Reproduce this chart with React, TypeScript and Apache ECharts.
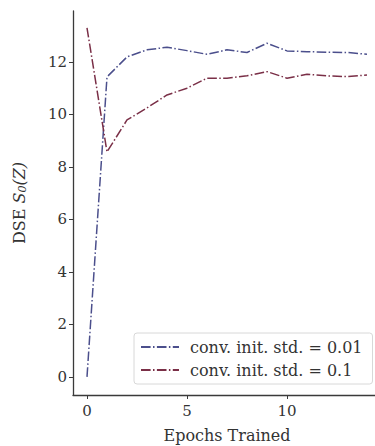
import React, { useEffect, useRef } from "react";
import * as echarts from "echarts";

// Epochs on the x axis
const epochs = [0, 1, 2, 3, 4, 5, 6, 7, 8, 9, 10, 11, 12, 13, 14];
// DSE S_0(Z) per epoch for each convolution init std
const dseStd001 = [0.0, 11.43, 12.19, 12.46, 12.56, 12.43, 12.29, 12.46, 12.36, 12.71, 12.42, 12.39, 12.37, 12.36, 12.29];
const dseStd01 = [13.3, 8.57, 9.79, 10.25, 10.74, 11.0, 11.38, 11.38, 11.47, 11.63, 11.38, 11.53, 11.47, 11.44, 11.5];
const seriesNames = ["conv. init. std. = 0.01", "conv. init. std. = 0.1"];
const xTicks = [0, 5, 10];
const yTicks = [0, 2, 4, 6, 8, 10, 12];

const FONT = "DejaVu Serif";
const BLUE = "#4b4f8c";
const RED = "#7a2f47";
const AXIS = "#3a3a3a";
const TEXT = "#333333";
const dashDot = [9.6, 2.4, 1.5, 2.4];

export default function App() {
  const ref = useRef<HTMLDivElement>(null);
  useEffect(() => {
    if (!ref.current) return;
    const chart = echarts.init(ref.current, undefined, { renderer: "svg" });
    const pair = (ys: number[]) => epochs.map((e, i) => [e, ys[i]]);
    chart.setOption({
      animation: false,
      backgroundColor: "#ffffff",
      grid: { left: 73, top: 11, right: -6, bottom: 51, containLabel: false, outerBoundsMode: "none" },
      xAxis: {
        type: "value",
        min: -0.7,
        max: 14.7,
        name: "Epochs Trained",
        nameLocation: "middle",
        nameGap: 32,
        nameTextStyle: { fontFamily: FONT, fontSize: 16, color: TEXT },
        axisLine: { show: true, onZero: false, lineStyle: { color: AXIS, width: 1.3 } },
        axisTick: { show: true, length: 4, lineStyle: { color: AXIS }, customValues: xTicks },
        axisLabel: { customValues: xTicks, fontFamily: FONT, fontSize: 15, color: TEXT, margin: 8 },
        splitLine: { show: false },
      },
      yAxis: {
        type: "value",
        min: -0.69,
        max: 13.94,
        name: "DSE {i|S}{sub|0}{i|(Z)}",
        nameLocation: "middle",
        nameGap: 45,
        nameRotate: 90,
        nameTextStyle: {
          fontFamily: FONT,
          fontSize: 16,
          color: TEXT,
          rich: {
            i: { fontFamily: FONT, fontStyle: "italic", fontSize: 16, color: TEXT },
            sub: { fontFamily: FONT, fontStyle: "italic", fontSize: 11, color: TEXT, padding: [7, 0, 0, 0] },
          },
        },
        axisLine: { show: true, onZero: false, lineStyle: { color: AXIS, width: 1.3 } },
        axisTick: { show: true, length: 4, lineStyle: { color: AXIS }, customValues: yTicks },
        axisLabel: { customValues: yTicks, fontFamily: FONT, fontSize: 15, color: TEXT, margin: 6 },
        splitLine: { show: false },
      },
      legend: {
        left: 134,
        top: 333,
        orient: "vertical",
        itemWidth: 38,
        itemHeight: 10,
        itemGap: 7,
        padding: [6, 10, 6, 6],
        backgroundColor: "rgba(255,255,255,0.85)",
        borderColor: "#d8d8d8",
        borderWidth: 1,
        borderRadius: 3,
        itemStyle: { opacity: 0 },
        textStyle: { fontFamily: FONT, fontSize: 16, color: TEXT, padding: [0, 0, 0, 6] },
        data: seriesNames,
      },
      series: [
        {
          name: seriesNames[0],
          type: "line",
          data: pair(dseStd001),
          showSymbol: false,
          symbol: "none",
          color: BLUE,
          lineStyle: { color: BLUE, width: 1.5, type: dashDot },
        },
        {
          name: seriesNames[1],
          type: "line",
          data: pair(dseStd01),
          showSymbol: false,
          symbol: "none",
          color: RED,
          lineStyle: { color: RED, width: 1.5, type: dashDot },
        },
      ],
    });
    return () => chart.dispose();
  }, []);
  return <div ref={ref} style={{ width: 375, height: 446, position: "absolute", left: 0, top: 0 }} />;
}
